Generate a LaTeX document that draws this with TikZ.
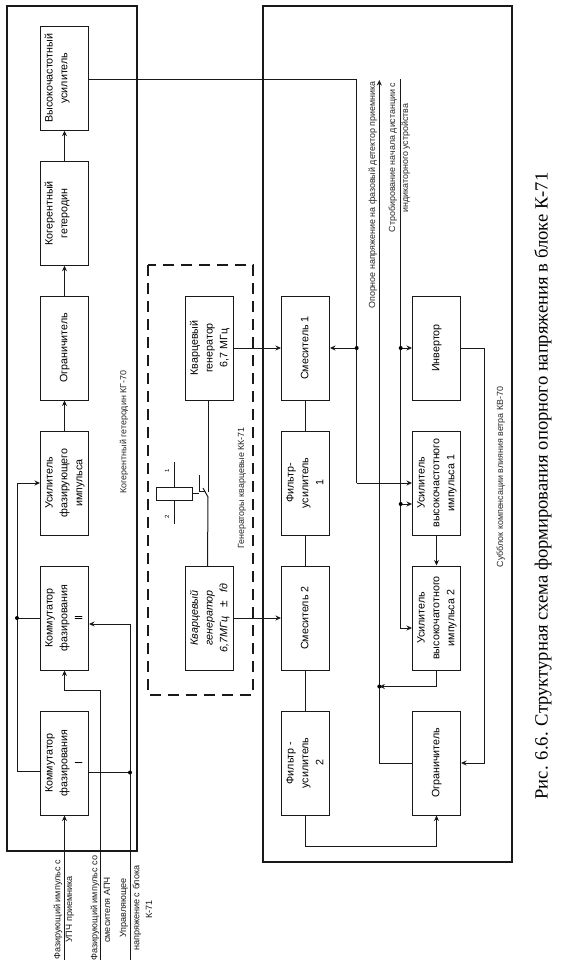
\documentclass[tikz,border=0pt]{standalone}
\usepackage{fontspec}
\usepackage{graphicx}
\setmainfont{Liberation Sans}
\newfontfamily\capfont{Liberation Serif}
\usetikzlibrary{arrows.meta,calc}
\newcommand{\rt}[1]{\rotatebox{90}{\begin{tabular}{@{}c@{}}#1\end{tabular}}}
\tikzset{
  conn/.style={line width=1pt,draw=black!90},
  arr/.style={conn,-{Stealth[length=5.5pt,width=5pt]}},
  dot/.style={circle,fill=black,inner sep=0pt,minimum size=4pt},
  frame/.style={draw=black!90,line width=1.7pt},
  boxc/.style={draw=black!90,line width=1pt,inner sep=0pt,minimum width=48pt,minimum height=104pt,font=\fontsize{10.7}{14.8}\selectfont,fill=white},
  gen/.style={boxc},
  lab/.style={rotate=90,inner sep=0pt,font=\fontsize{8.9}{12}\selectfont,text=black!85},
  small/.style={rotate=90,inner sep=0pt,font=\fontsize{9.1}{12}\selectfont,text=black!90},
  gendash/.style={draw=black!90,line width=1.5pt,dash pattern=on 11pt off 7pt}
}
\begin{document}
\begin{tikzpicture}[x=1pt,y=-1pt]
\useasboundingbox (0,0) rectangle (562,963);
% frames
\draw[frame] (7,6) rectangle (137,851);
\draw[frame] (262.7,6) rectangle (511.7,861.7);
\draw[gendash] (148,265) rectangle (253,695);
% left column
\node[boxc] (vch) at (64.5,78.2) {\rt{Высокочастотный\\усилитель\\ \mbox{}}};
\node[boxc] (kog) at (64.5,213.2) {\rt{Когерентный\\гетеродин\\ \mbox{}}};
\node[boxc] (ogrL) at (64.5,348) {\rt{Ограничитель}};
\node[boxc] (usf) at (64.5,483) {\rt{Усилитель\\фазирующего\\импульса}};
\node[boxc] (kom2) at (64.5,618) {\rt{Коммутатор\\фазирования\\II}};
\node[boxc] (kom1) at (64.5,763) {\rt{Коммутатор\\фазирования\\I}};
% generators
\node[gen] (g1) at (209.7,348) {\rt{Кварцевый\\генератор\\6,7 МГц}};
\node[gen] (g2) at (209.7,618) {\rt{\itshape Кварцевый\\\itshape генератор\\\itshape 6,7МГц\ \ \ {\upshape\large ±}\ \ \ fд}};
% mixers column
\node[boxc] (sm1) at (305.5,348) {\rt{Смеситель 1}};
\node[boxc] (f1) at (305.5,483) {\rt{Фильтр-\\усилитель\\1}};
\node[boxc] (sm2) at (305.5,618) {\rt{Смеситель 2}};
\node[boxc] (f2) at (305.5,763) {\rt{Фильтр -\\усилитель\\2}};
% right column
\node[boxc] (inv) at (436.5,348) {\rt{Инвертор}};
\node[boxc] (u1) at (436.5,483) {\rt{Усилитель\\высокочастотного\\импульса 1}};
\node[boxc] (u2) at (436.5,618) {\rt{Усилитель\\высокочатотного\\импульса 2}};
\node[boxc] (ogrR) at (436.5,763) {\rt{Ограничитель}};
% labels
\node[lab] at (124,432) {Когерентный гетеродин КГ-70};
\node[lab] at (242,488) {Генераторы кварцевые КК-71};
\node[lab] at (500.7,477) {Субблок компенсации влияния ветра КВ-70};
\node[lab] (topA) at (372.7,195) {Опорное напряжение на фазовый детектор приемника};
\node[lab] (topB) at (392.7,157.5) {Стробирование начала дистанции с};
\node[lab] (topC) at (405.7,158) {индикаторного устройства};
\node[small,anchor=west] at (58,960) {Фазирующий импульс с};
\node[small,anchor=west] at (70,943) {УПЧ приемника};
\node[small,anchor=west] at (95,961) {Фазирующий импульс со};
\node[small,anchor=west] at (107,943) {смесителя АПЧ};
\node[small,anchor=west] at (124,938) {Управляющее};
\node[small,anchor=west] at (137,951) {напряжение с блока};
\node[small,anchor=west] at (149,919) {К-71};
\node[rotate=90,inner sep=0pt,font=\capfont\fontsize{18.6}{24}\selectfont] at (543,486) {Рис. 6.6. Структурная схема формирования опорного напряжения в блоке К-71};
% coordinates
\coordinate (bot1) at (64.5,960);
\coordinate (bot2) at (100,960);
\coordinate (bot3) at (130,960);
\coordinate (j2) at (100,690);
\coordinate (j2b) at (64.5,690);
\coordinate (jk1) at (130,772.5);
\coordinate (jk2) at (130,624);
\coordinate (l1) at (17,771);
\coordinate (l2) at (17,618);
\coordinate (l3) at (17,483);
\coordinate (a1) at (356.7,80);
\coordinate (a2) at (356.7,348);
\coordinate (a3) at (356.7,483);
\coordinate (b0) at (379.3,80);
\coordinate (b1) at (379.3,686.5);
\coordinate (b2) at (379.3,763);
\coordinate (b3) at (436.5,686.5);
\coordinate (c0) at (400.7,79);
\coordinate (c1) at (400.7,348);
\coordinate (c2) at (400.7,504);
\coordinate (c3) at (400.7,628);
\coordinate (d1) at (484,348);
\coordinate (d2) at (484,763);
\coordinate (e1) at (305.5,846.5);
\coordinate (e2) at (436.5,846.5);
% left chain
\draw[arr] (usf.north) -- (ogrL.south);
\draw[arr] (ogrL.north) -- (kog.south);
\draw[arr] (kog.north) -- (vch.south);
\draw[arr] (bot1) -- (kom1.south);
\draw[arr] (bot2) -- (j2) -- (j2b) -- (kom2.south);
\draw[conn] (kom1.east |- jk1) -- (jk1);
\draw[arr] (bot3) -- (jk2) -- (kom2.east |- jk2);
\draw[conn] (kom1.west |- l1) -- (l1) -- (l2);
\draw[conn] (kom2.west) -- (l2);
\draw[arr] (l2) -- (l3) -- (usf.west);
\node[dot] at (jk1) {};
\node[dot] at (l2) {};
% main line from HF amp
\draw[conn] (vch.east |- a1) -- (a1) -- (a2);
\draw[conn] (a2) -- (a3);
\draw[arr] (a2) -- (sm1.east);
\draw[arr] (a3) -- (u1.west);
\node[dot] at (a2) {};
% reference voltage output
\draw[arr] (b2) -- (b0);
\draw[conn] (ogrR.west) -- (b2);
\draw[arr] (u2.south) -- (b3) -- (b1);
\node[dot] at (b1) {};
% strobe
\draw[conn] (c0) -- (c1);
\draw[conn] (c1) -- (c2);
\draw[arr] (c2) -- (c3) -- (u2.west |- c3);
\draw[arr] (c1) -- (inv.west);
\draw[arr] (c2) -- (u1.west |- c2);
\node[dot] at (c1) {};
\node[dot] at (c2) {};
% inverter
\draw[arr] (inv.east) -- (d1) -- (d2) -- (ogrR.east);
\draw[arr] (u1.south) -- (u2.north);
% filters and mixers
\draw[conn] (sm1.south) -- (f1.north);
\draw[conn] (f1.south) -- (sm2.north);
\draw[conn] (sm2.south) -- (f2.north);
\draw[arr] (f2.south) -- (e1) -- (e2) -- (ogrR.south);
% generators to mixers
\draw[arr] (g1.east) -- (sm1.west);
\draw[arr] (g2.east) -- (sm2.west);
% relay
\node[draw=black!90,line width=1pt,minimum width=36.3pt,minimum height=12.7pt,inner sep=0pt] (rel) at (174.2,493.7) {};
\coordinate (r1) at (174.3,462);
\coordinate (r2) at (174.3,524);
\coordinate (s1) at (199.3,475);
\coordinate (s2) at (199.3,491);
\coordinate (s3) at (205,491);
\coordinate (s4) at (203,488);
\coordinate (s5) at (208,497);
\coordinate (s6) at (208.3,400);
\coordinate (s7) at (208.3,492);
\coordinate (s8) at (207.5,566);
\draw[conn] (r1) -- (rel.north -| r1);
\draw[conn] (rel.south -| r2) -- (r2);
\node[font=\fontsize{6}{7}\selectfont,rotate=90,inner sep=0pt] at (167,471) {1};
\node[font=\fontsize{6}{7}\selectfont,rotate=90,inner sep=0pt] at (167,517) {2};
\draw[conn] (rel.east) -- (s2 |- rel.east);
\draw[conn] (s1) -- (s2) -- (s3);
\draw[conn] (s4) -- (s5) -- (s8);
\draw[conn] (s6) -- (s7);
\end{tikzpicture}
\end{document}
